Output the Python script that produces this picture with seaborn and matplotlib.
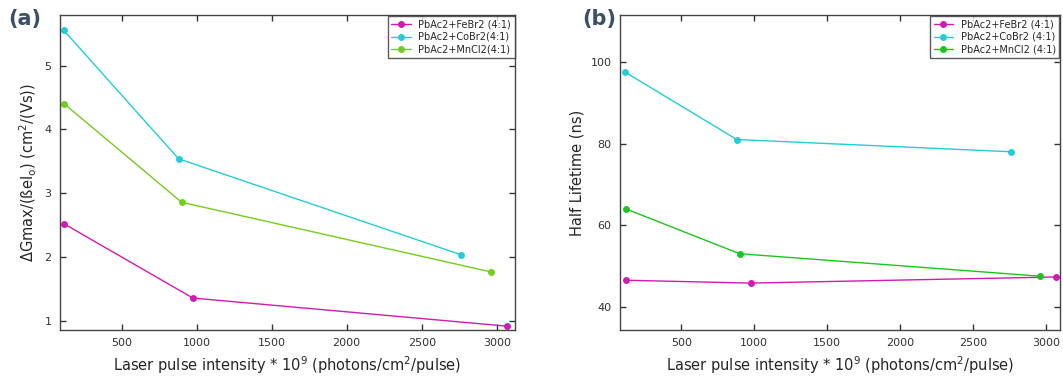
import numpy as np
import pandas as pd
import matplotlib
matplotlib.use("Agg")
import matplotlib.pyplot as plt
import seaborn as sns

series = ["PbAc2+FeBr2 (4:1)", "PbAc2+CoBr2(4:1)", "PbAc2+MnCl2(4:1)"]
series_b = ["PbAc2+FeBr2 (4:1)", "PbAc2+CoBr2 (4:1)", "PbAc2+MnCl2 (4:1)"]

x_fe = [118, 975, 3068]
x_co = [115, 880, 2760]
x_mn = [118, 900, 2960]

g_fe = [2.52, 1.36, 0.92]
g_co = [5.55, 3.54, 2.04]
g_mn = [4.40, 2.86, 1.77]

t_fe = [46.5, 45.8, 47.3]
t_co = [97.5, 81.0, 78.0]
t_mn = [64.0, 53.0, 47.5]

sns.set_style("ticks")
plt.rcParams['font.family'] = ['DejaVu Sans']

def long(names, xs, ys):
    rows = []
    for n, xx, yy in zip(names, xs, ys):
        for a, b in zip(xx, yy):
            rows.append({"x": a, "y": b, "s": n})
    return pd.DataFrame(rows)

df_a = long(series, [x_fe, x_co, x_mn], [g_fe, g_co, g_mn])
df_b = long(series_b, [x_fe, x_co, x_mn], [t_fe, t_co, t_mn])

pal_a = ["#d11ab4", "#22cdd6", "#74cc1c"]
pal_b = ["#d11ab4", "#22cdd6", "#1dc41d"]

fig = plt.figure(figsize=(10.63, 3.78), dpi=100)
ax1 = fig.add_axes([0.0564, 0.127, 0.4281, 0.833])
ax2 = fig.add_axes([0.583, 0.127, 0.414, 0.833])

for ax, df, pal, names in [(ax1, df_a, pal_a, series), (ax2, df_b, pal_b, series_b)]:
    sns.lineplot(data=df, x="x", y="y", hue="s", hue_order=names, palette=pal,
                 marker="o", markersize=5, markeredgewidth=0, linewidth=1.0,
                 sort=False, ax=ax)
    ax.set_xticks([500, 1000, 1500, 2000, 2500, 3000])
    ax.tick_params(direction="in", top=True, right=True, length=4, width=1,
                   labelsize=8, colors="#333333", labelcolor="#333333", pad=6)
    for sp in ax.spines.values():
        sp.set_visible(True)
        sp.set_color("#444444")
        sp.set_linewidth(1.0)
    ax.set_xlabel("Laser pulse intensity * 10$^9$ (photons/cm$^2$/pulse)", fontsize=10.5)
    leg = ax.legend(loc="upper right", fontsize=7, frameon=True, fancybox=False,
                    edgecolor="#333333", borderpad=0.35, labelspacing=0.3,
                    handlelength=2.0, borderaxespad=0.05)
    leg.get_frame().set_linewidth(1.0)
    leg.set_title(None)

ax1.set_xlim(89, 3122)
ax1.set_ylim(0.86, 5.79)
ax1.set_yticks([1, 2, 3, 4, 5])
ax1.set_ylabel("ΔGmax/(ßeI$_\\mathrm{o}$) (cm$^2$/(Vs))", fontsize=10.5)

ax2.set_xlim(77, 3096)
ax2.set_ylim(34.3, 111.5)
ax2.set_yticks([40, 60, 80, 100])
ax2.set_ylabel("Half Lifetime (ns)", fontsize=10.5)

fig.text(0.008, 0.935, "(a)", fontsize=15, fontweight="bold", color="#3d4f66")
fig.text(0.548, 0.935, "(b)", fontsize=15, fontweight="bold", color="#3d4f66")

fig.savefig("out.png", dpi=100)
